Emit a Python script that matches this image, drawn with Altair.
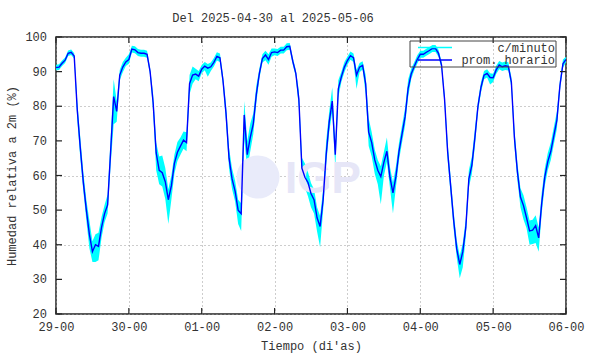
import altair as alt
import pandas as pd

# ---------------- data ----------------
dias = ["29-00", "30-00", "01-00", "02-00", "03-00", "04-00", "05-00", "06-00"]
niveles = [20, 30, 40, 50, 60, 70, 80, 90, 100]

# hourly mean relative humidity (%), hour 0 = 29-00 ... hour 168 = 06-00
prom_horario = [
    # 29
    91.2, 91.3, 92.4, 93.3, 95.3, 95.6, 94.5, 79.0, 68.0, 58.0, 50.0, 43.0,
    38.0, 40.0, 39.5, 45.0, 49.0, 51.5, 67.0, 82.8, 78.5, 89.0, 91.3, 92.8,
    # 30
    93.5, 96.5, 96.3, 95.5, 95.3, 95.3, 95.0, 90.0, 81.0, 66.5, 61.5, 60.8,
    58.2, 53.0, 57.0, 63.5, 66.7, 68.5, 70.2, 69.5, 86.5, 89.0, 89.3, 88.7,
    # 01
    90.7, 91.6, 91.0, 91.4, 92.7, 94.4, 94.0, 87.5, 78.0, 65.0, 59.0, 55.5,
    50.0, 49.0, 77.5, 66.0, 71.0, 75.0, 83.5, 89.5, 93.8, 94.8, 93.5, 95.5,
    # 02
    95.7, 95.5, 96.2, 96.2, 97.2, 97.3, 93.0, 89.5, 82.0, 62.1, 59.5, 58.0,
    54.8, 53.0, 47.8, 45.3, 53.0, 66.0, 75.5, 81.5, 66.0, 85.0, 88.5, 91.3,
    # 03
    93.2, 94.6, 94.0, 89.0, 91.3, 91.8, 86.5, 72.5, 69.5, 64.5, 61.5, 59.7,
    63.8, 67.0, 59.5, 55.0, 59.8, 67.0, 72.0, 77.0, 85.2, 89.3, 91.5, 93.5,
    # 04
    95.0, 95.0, 95.6, 96.1, 96.7, 96.7, 95.3, 91.9, 82.0, 67.0, 57.0, 47.0,
    38.8, 34.3, 38.0, 45.0, 59.0, 63.0, 71.0, 80.0, 85.5, 89.0, 89.5, 88.3,
    # 05
    88.2, 90.5, 91.9, 91.4, 91.7, 91.5, 87.0, 71.0, 61.0, 53.8, 51.3, 47.8,
    44.0, 44.2, 45.5, 42.0, 52.0, 59.5, 64.0, 67.0, 71.5, 76.0, 86.0, 92.3,
    # 06-00
    93.5,
]

# spread of the per-minute readings around each hourly mean (above / below, %)
minuto_sube = [
    0.8, 0.8, 0.8, 0.8, 0.8, 0.8, 0.8, 2.5, 3, 3, 3, 4, 3, 3, 4, 3, 2.5, 3, 4, 5, 3, 1.5, 1.5, 1.2,
    1.5, 1, 1, 1, 1, 1, 1, 1, 2.5, 3, 4, 5, 4, 3, 3, 2.5, 3, 2.5, 2.5, 3, 2.5, 2.5, 1.5, 1.5,
    1.2, 1.2, 1.2, 1.2, 1.2, 1.2, 1.2, 1.5, 2.5, 3, 3, 3, 3, 3, 4, 4, 4, 3, 2.5, 1.5, 1.2, 1.2, 1.5, 1.2,
    1, 1, 1, 1, 1, 1, 1, 1, 2.5, 3, 4, 3, 3, 3, 3, 3, 3, 4, 3, 4, 3, 2.5, 1.5, 1.5,
    1.2, 1.2, 1.2, 1.5, 1.2, 1.2, 2.5, 4, 3, 3, 3, 3, 3, 4, 3, 3, 3, 2.5, 2.5, 2.5, 2.5, 1.5, 1.2, 1.2,
    1, 1, 1, 1, 1, 1, 1, 1, 1.5, 2.5, 2.5, 2.5, 2.5, 2.5, 2.5, 2.5, 2.5, 2.5, 2.5, 1.5, 1.5, 1.2, 1.2, 1.2,
    1.2, 1.2, 1.2, 1.2, 1.2, 1.2, 1.5, 2.5, 2.5, 2.5, 3, 3, 3, 3, 3, 3, 3, 2.5, 2.5, 2.5, 2.5, 2.5, 1.5, 1.2,
    0.8,
]
minuto_baja = [
    0.8, 0.8, 0.8, 0.8, 0.8, 0.8, 0.8, 3, 3, 2.5, 3, 4, 3, 5, 4, 3, 2.5, 2.5, 4, 8, 3, 1.5, 1.5, 1.2,
    1.2, 1, 1, 1, 1, 1, 1, 1, 2.5, 5, 4, 4, 5, 7, 4, 3, 2.5, 2.5, 2.5, 2.5, 3, 2.5, 1.5, 1.5,
    1.2, 1.2, 2.5, 1.2, 1.2, 1.2, 1.2, 1.5, 2.5, 3, 3, 3, 4, 5, 7, 4, 4, 3, 2.5, 1.5, 1.2, 1.5, 1.5, 1.2,
    1, 1, 1, 1, 1, 1, 1, 1, 2.5, 3, 3, 4, 4, 4, 4, 6, 3, 3, 3, 3, 4, 2.5, 1.5, 1.5,
    1.2, 1.2, 1.2, 4, 1.5, 1.2, 3, 4, 4, 4, 4, 8, 4, 3, 3, 6, 3, 2.5, 2.5, 2.5, 2.5, 1.5, 1.2, 1.2,
    1, 1, 1, 1, 1, 1, 1, 1, 1.5, 2.5, 2.5, 2.5, 2.5, 4, 4.5, 2.5, 2.5, 2.5, 2.5, 1.5, 1.5, 1.2, 1.2, 2,
    1.2, 1.2, 1.2, 1.2, 1.2, 1.2, 1.5, 2.5, 2.5, 3, 4, 3, 4, 4, 5, 4, 3, 2.5, 2.5, 2.5, 2.5, 2.5, 1.5, 1.2,
    0.8,
]

titulo = "Del 2025-04-30 al 2025-05-06"
leyenda = ["c/minuto", "prom. horario"]

# ---------------- build ----------------
horas = list(range(len(prom_horario)))
df = pd.DataFrame({
    "h": horas,
    "prom": prom_horario,
    "alto": [min(100, p + u) for p, u in zip(prom_horario, minuto_sube)],
    "bajo": [p - d for p, d in zip(prom_horario, minuto_baja)],
})

FONT = "Liberation Mono"
TXT = "#333333"
W, H = 510, 277
label_expr = "[" + ",".join("'%s'" % d for d in dias) + "][round(datum.value/24)]"

xs = alt.Scale(domain=[0, 168], nice=False, zero=False)
ys = alt.Scale(domain=[20, 100], nice=False, zero=False)

xaxis = alt.Axis(values=[24 * i for i in range(8)], labelExpr=label_expr,
                 title="Tiempo (di'as)", ticks=False, domain=False,
                 labelOverlap=False, labelFlush=False,
                 grid=True, gridDash=[1, 3], gridColor="#9a9a9a",
                 labelFont=FONT, labelFontSize=12, labelColor=TXT,
                 labelPadding=7, titleFont=FONT, titleFontSize=12,
                 titleFontWeight="normal", titleColor=TXT, titlePadding=8)
yaxis = alt.Axis(values=niveles, title="Humedad relativa a 2m (%)",
                 ticks=False, domain=False, labels=False,
                 grid=True, gridDash=[1, 3], gridColor="#9a9a9a",
                 titleFont=FONT, titleFontSize=12, titleFontWeight="normal",
                 titleColor=TXT, titlePadding=38)

one = alt.Data(values=[{"a": 1}])

# faint watermark logo
logo_circ = alt.Chart(one).mark_point(filled=True, shape="circle", size=1850,
                                      color="#e9ebfa", opacity=1).encode(
    x=alt.value(202), y=alt.value(140))
logo_txt = alt.Chart(one).mark_text(text="IGP", font="Liberation Sans",
                                    fontWeight="bold", fontSize=44,
                                    color="#e6e6f7", align="center",
                                    baseline="alphabetic").encode(
    x=alt.value(267), y=alt.value(156))

base = alt.Chart(df)
banda = base.mark_area(color="#00ffff", opacity=1, clip=True).encode(
    x=alt.X("h:Q", scale=xs, axis=xaxis),
    y=alt.Y("bajo:Q", scale=ys, axis=yaxis),
    y2="alto:Q",
)
linea = base.mark_line(color="#0000ff", strokeWidth=1.4, clip=True).encode(
    x=alt.X("h:Q", scale=xs),
    y=alt.Y("prom:Q", scale=ys),
)

# y tick labels and inward tick marks
xt = pd.DataFrame({"h": [24 * i for i in range(8)]})
yt = pd.DataFrame({"prom": niveles, "lab": [str(v) for v in niveles]})
ylab = alt.Chart(yt).mark_text(font=FONT, fontSize=12, color=TXT, align="right",
                               baseline="middle").encode(
    y=alt.Y("prom:Q", scale=ys), x=alt.value(-9), text="lab:N")
tick_b = alt.Chart(xt).mark_rule(color="#222", strokeWidth=1.2).encode(
    x=alt.X("h:Q", scale=xs), y=alt.value(H), y2=alt.value(H - 6))
tick_t = alt.Chart(xt).mark_rule(color="#222", strokeWidth=1.2).encode(
    x=alt.X("h:Q", scale=xs), y=alt.value(0), y2=alt.value(6))
tick_l = alt.Chart(yt).mark_rule(color="#222", strokeWidth=1.2).encode(
    y=alt.Y("prom:Q", scale=ys), x=alt.value(0), x2=alt.value(6))
tick_r = alt.Chart(yt).mark_rule(color="#222", strokeWidth=1.2).encode(
    y=alt.Y("prom:Q", scale=ys), x=alt.value(W), x2=alt.value(W - 6))

# legend
caja = alt.Chart(one).mark_rect(fill=None, stroke="#444", strokeWidth=1).encode(
    x=alt.value(354), x2=alt.value(500), y=alt.value(4), y2=alt.value(30))
leg_c = alt.Chart(one).mark_rule(color="#00ffff", strokeWidth=1.5).encode(
    x=alt.value(362), x2=alt.value(396), y=alt.value(10.5))
leg_b = alt.Chart(one).mark_rule(color="#0000ff", strokeWidth=1.4).encode(
    x=alt.value(362), x2=alt.value(396), y=alt.value(23))
leg_t1 = alt.Chart(one).mark_text(text=leyenda[0], font=FONT, fontSize=12,
                                  color=TXT, align="right", baseline="middle").encode(
    x=alt.value(499), y=alt.value(10.5))
leg_t2 = alt.Chart(one).mark_text(text=leyenda[1], font=FONT, fontSize=12,
                                  color=TXT, align="right", baseline="middle").encode(
    x=alt.value(499), y=alt.value(23))

tit = alt.Chart(one).mark_text(text=titulo, font=FONT, fontSize=12, color=TXT,
                               align="center", baseline="middle").encode(
    x=alt.value(217), y=alt.value(-19))

chart = alt.layer(
    banda, logo_circ, logo_txt, linea, ylab, tick_b, tick_t, tick_l, tick_r,
    caja, leg_c, leg_b, leg_t1, leg_t2, tit,
).properties(
    width=W, height=H,
    autosize=alt.AutoSizeParams(type="none"),
    padding={"left": 56, "top": 37, "right": 24, "bottom": 40},
    background="white",
).configure_view(stroke="#222", strokeWidth=1.5)

chart.save("out.html", embed_options={"renderer": "svg", "actions": False})
